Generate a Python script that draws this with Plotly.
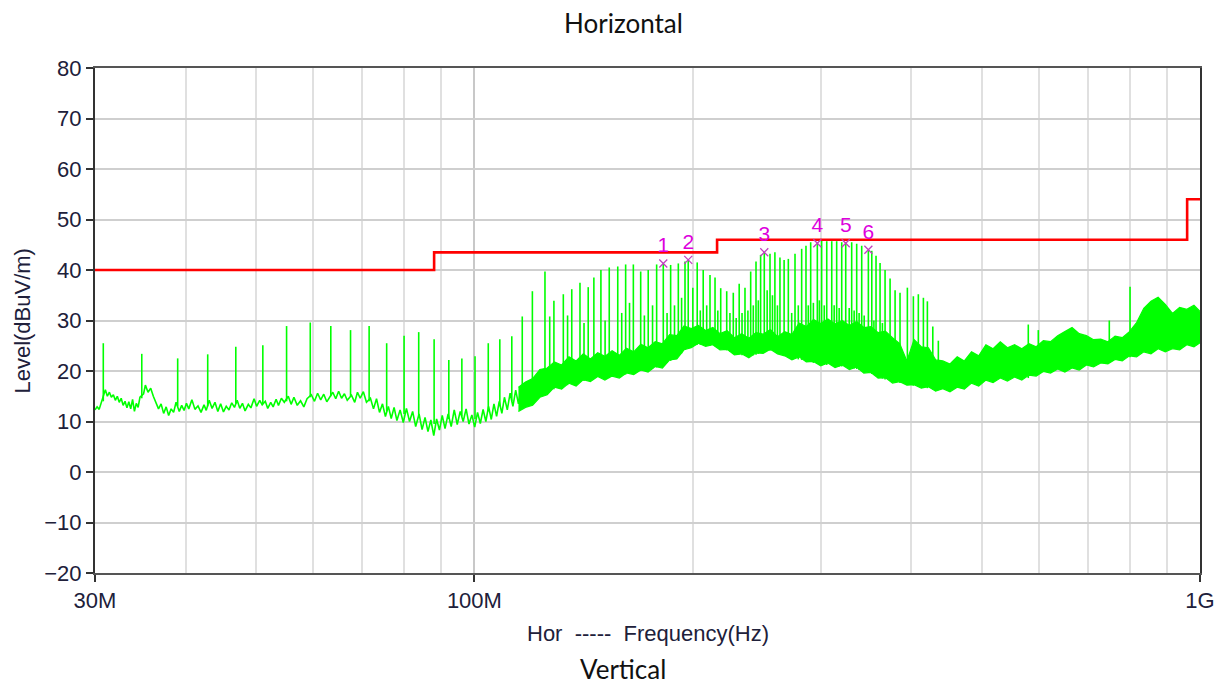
import math
import plotly.graph_objects as go

# ---------------- data (frequencies in MHz, levels in dBuV/m) ----------------
# low-frequency part of the measured trace (thin noisy line)
trace_mhz = [30.0, 30.2, 30.4, 30.55, 31.0, 31.2, 31.4, 31.6, 31.8, 32.0, 32.2, 32.4, 32.6, 32.8, 33.0,
             33.2, 33.4, 33.6, 33.8, 34.0, 34.2, 34.4, 34.6, 35.0, 35.2, 35.5, 35.8, 36.1, 36.4, 36.7,
             37.0, 37.3, 37.6, 37.9, 38.2, 38.5, 38.8, 39.2, 39.5, 39.8, 40.1, 40.4, 40.8, 41.2, 41.6,
             42.0, 42.4, 42.7, 43.1, 43.5, 43.9, 44.3, 44.7, 45.1, 45.5, 45.9, 46.3, 46.7, 47.1, 47.5,
             47.9, 48.3, 48.8, 49.2, 49.7, 50.1, 50.6, 51.0, 51.5, 51.9, 52.4, 52.8, 53.3, 53.7, 54.2,
             54.7, 55.4, 55.9, 56.4, 57.0, 57.6, 58.2, 58.8, 59.6, 60.2, 60.8, 61.4, 62.0, 62.6, 63.2,
             63.8, 64.4, 65.0, 65.6, 66.2, 66.8, 67.7, 68.4, 69.0, 69.6, 70.3, 71.0, 71.9, 72.6, 73.3,
             74.0, 74.7, 75.4, 76.1, 76.8, 77.5, 78.2, 79.0, 79.8, 80.6, 81.4, 82.2, 83.0, 83.9, 84.7,
             85.5, 86.3, 87.1, 87.9, 88.7, 89.5, 90.3, 91.1, 92.0, 92.9, 93.8, 94.7, 95.6, 96.5, 97.4,
             98.3, 99.2, 100.1, 101.0, 101.9, 102.8, 103.7, 104.6, 105.5, 106.4, 107.3, 108.2, 109.1,
             110.0, 111.0, 112.0, 113.0, 114.0, 115.0, 116.0]
trace_db = [12.3, 12.9, 12.4, 13.5, 16.3, 15.0, 15.8, 14.8, 15.3, 14.2, 15.0, 13.8, 14.6, 13.2, 14.0,
            12.7, 13.9, 12.5, 14.4, 12.0, 13.6, 12.8, 14.8, 15.5, 17.2, 15.8, 16.6, 15.0, 13.8, 12.5,
            13.5, 11.6, 12.9, 11.2, 12.5, 11.8, 13.8, 12.0, 13.2, 12.2, 13.6, 12.5, 14.3, 12.4, 13.1,
            11.8, 13.3, 12.2, 14.2, 12.6, 13.8, 12.0, 13.5, 11.9, 13.0, 12.3, 13.7, 12.8, 14.2, 12.6,
            13.6, 12.1, 13.4, 12.7, 14.5, 13.0, 14.2, 13.3, 14.0, 12.6, 13.8, 12.9, 14.4, 13.2, 14.6,
            13.8, 15.0, 13.4, 14.8, 13.2, 14.1, 12.9, 14.5, 15.3, 14.0, 15.6, 14.3, 15.4, 13.9, 14.8,
            15.8, 14.5, 16.0, 14.6, 15.5, 14.2, 15.2, 13.8, 15.8, 14.6, 15.9, 13.8, 14.6, 12.5, 14.5,
            11.8, 13.5, 11.0, 13.0, 10.6, 12.8, 10.2, 12.3, 9.8, 12.6, 10.0, 12.0, 9.0, 11.5, 8.4,
            10.8, 8.0, 10.3, 7.2, 10.5, 8.3, 11.2, 8.6, 11.5, 9.0, 12.3, 9.4, 12.0, 10.0, 12.5,
            9.5, 11.3, 8.9, 11.8, 9.6, 12.4, 10.0, 13.0, 10.4, 13.5, 11.0, 14.0, 11.6,
            14.8, 12.3, 15.6, 13.0, 16.2, 13.5, 16.8]

# dense noise band above ~115 MHz (lower and upper edge of the fuzz)
band_mhz = [115.0, 117.6, 120.3, 123.1, 126.0, 128.9, 131.9, 135.0, 138.1, 141.3, 144.5, 147.9, 151.3,
            154.8, 158.4, 162.0, 165.8, 169.6, 173.5, 177.5, 181.6, 185.8, 190.1, 194.5, 199.0, 203.6,
            208.3, 213.1, 218.0, 223.0, 228.2, 233.5, 238.9, 244.4, 250.0, 255.8, 261.7, 267.7, 273.9,
            280.2, 286.7, 293.3, 300.1, 307.0, 314.1, 321.3, 328.7, 336.3, 344.1, 352.0, 360.1, 368.4,
            376.9, 385.6, 394.5, 403.6, 412.9, 422.4, 432.2, 442.1, 452.3, 462.8, 473.4, 484.3, 495.5,
            506.9, 518.6, 530.6, 542.8, 555.3, 568.1, 581.2, 594.6, 608.3, 622.3, 636.6, 651.3, 666.3,
            681.6, 697.3, 713.4, 729.8, 746.6, 763.8, 781.4, 799.4, 817.8, 836.6, 855.9, 875.6, 895.7,
            916.3, 937.4, 959.0, 981.0, 1000.0]
band_low = [12.0, 12.8, 13.2, 14.8, 15.3, 16.8, 16.4, 17.6, 17.0, 18.3, 17.9, 18.9, 18.2,
            19.0, 18.6, 19.6, 19.3, 20.2, 19.8, 20.9, 20.6, 22.2, 22.4, 24.2, 24.6, 25.5,
            24.9, 25.2, 24.2, 24.3, 23.2, 23.4, 22.6, 23.6, 23.5, 24.3, 23.4, 23.0, 22.2,
            22.8, 21.8, 21.9, 21.0, 21.6, 20.7, 21.2, 20.3, 20.8, 19.6, 19.7, 18.6, 18.7,
            17.6, 17.9, 17.2, 17.3, 16.6, 16.9, 16.0, 16.5, 15.9, 16.8, 16.4, 17.6, 17.0,
            18.2, 17.7, 18.6, 18.0, 18.8, 18.2, 19.2, 19.0, 19.9, 19.6, 20.4, 19.8, 20.6,
            20.2, 21.2, 20.8, 21.6, 21.4, 22.3, 22.0, 23.0, 22.8, 23.8, 23.4, 24.4, 23.8,
            24.4, 24.2, 25.2, 24.8, 25.6]
band_high = [16.8, 17.8, 18.5, 20.3, 20.6, 21.8, 21.2, 22.8, 22.0, 23.4, 22.4, 23.6, 22.9,
             24.0, 23.1, 24.5, 23.8, 25.3, 24.6, 25.8, 25.4, 27.2, 27.0, 28.9, 28.4, 29.0,
             28.0, 28.6, 27.4, 28.0, 26.6, 27.4, 26.5, 27.6, 27.3, 28.2, 26.8, 27.8, 27.2,
             29.5, 28.8, 30.2, 29.4, 30.3, 29.3, 30.0, 29.0, 29.8, 28.6, 28.8, 27.6, 27.9,
             26.6, 25.4, 22.0, 26.2, 24.8, 24.6, 22.2, 22.0, 21.4, 22.8, 22.0, 23.8, 23.0,
             25.2, 24.4, 25.8, 24.6, 25.2, 24.4, 25.4, 24.8, 26.0, 25.8, 27.0, 27.8, 28.6,
             27.4, 27.0, 26.2, 26.3, 25.8, 26.9, 26.6, 27.8, 29.6, 32.4, 33.8, 34.6, 33.2,
             31.4, 32.6, 32.2, 33.0, 31.8]

spike_mhz = [30.8, 34.8, 39.0, 42.9, 46.9, 51.1, 55.1, 59.4, 63.4, 67.5, 71.6, 75.7, 80.0, 83.8, 88.0,
             92.2, 96.1, 100.2, 104.5, 108.4, 112.6, 116.4, 120.2, 125.1, 128.7, 132.6, 136.2, 139.8,
             143.5, 146.1, 149.4, 153.4, 157.6, 161.6, 165.6, 169.5, 173.6, 178.3, 182.1, 186.4, 191.0,
             195.1, 197.1, 202.8, 206.7, 211.2, 214.6, 218.5, 222.7, 227.4, 231.7, 236.0, 240.3, 244.4,
             248.0, 250.9, 255.5, 259.5, 263.7, 267.2, 270.8, 276.6, 282.5, 286.4, 290.7, 296.9, 301.0,
             305.9, 310.8, 315.7, 320.8, 324.9, 331.1, 336.4, 341.8, 349.1, 352.9, 357.7, 362.3, 368.1,
             374.0, 380.0, 386.0, 395.1, 402.7, 409.1, 415.7, 421.0, 428.3, 435.9, 579.9, 598.6, 749.9,
             800.9,
             127.0, 134.4, 141.6, 151.4, 159.6, 163.6, 171.5, 176.0, 184.3, 188.7, 193.0, 200.0, 204.8,
             209.0, 216.5, 225.0, 229.5, 233.8, 238.2, 242.3, 246.2, 253.2, 257.5, 261.6, 273.7, 279.5,
             288.5, 293.2, 298.8, 303.5, 313.2, 318.2, 328.5, 333.7, 339.0, 344.5, 355.3, 365.0]
spike_peak = [25.5, 23.4, 22.5, 23.3, 24.8, 25.1, 28.9, 29.6, 28.9, 28.1, 28.9, 25.5, 27.0, 27.7, 26.3,
              22.2, 22.5, 22.9, 25.5, 26.3, 26.9, 30.8, 35.8, 39.7, 33.9, 35.2, 36.2, 37.5,
              36.6, 38.5, 40.0, 40.5, 40.7, 41.1, 41.1, 39.7, 40.0, 41.1, 41.3, 41.0, 41.3,
              41.7, 42.0, 41.5, 40.0, 39.0, 38.5, 36.4, 35.8, 35.5, 37.3, 36.5, 39.7, 41.7,
              43.0, 43.5, 43.2, 43.5, 42.5, 42.0, 42.2, 43.2, 44.2, 44.8, 45.5, 45.3, 45.8,
              45.7, 45.7, 45.7, 45.5, 45.3, 45.5, 45.2, 44.8, 44.0, 43.8, 42.8, 41.4, 40.0,
              38.3, 36.0, 35.5, 36.5, 34.8, 35.2, 34.5, 33.8, 28.8, 26.0, 29.2, 28.1, 30.0,
              36.7,
              30.8, 31.0, 29.5, 30.0, 31.5, 33.5, 31.0, 33.0, 31.5, 33.0, 34.5, 36.5, 32.0,
              33.0, 32.0, 31.5, 30.5, 31.5, 32.0, 33.0, 34.0, 36.0, 35.0, 33.0, 31.5, 33.0,
              33.0, 33.5, 34.0, 33.0, 33.0, 32.5, 32.5, 32.0, 31.5, 31.0, 30.0, 29.5]
spike_base = [14.0, 14.6, 13.0, 13.0, 13.5, 13.5, 14.0, 14.8, 15.0, 15.0, 14.0, 12.0, 11.5, 11.0, 9.5,
              10.5, 11.0, 10.5, 12.0, 13.0, 14.0, 14.0, 13.5, 15.2, 16.4, 17.0, 17.4, 17.8,
              18.2, 18.5, 18.8, 18.6, 18.9, 19.3, 19.7, 20.0, 20.2, 20.7, 21.2, 22.0, 23.0,
              24.2, 25.0, 25.2, 25.2, 25.0, 24.9, 24.5, 24.1, 23.6, 23.3, 23.0, 23.0, 23.2,
              23.6, 23.9, 24.0, 23.9, 23.5, 23.0, 22.6, 22.5, 22.2, 22.0, 21.8, 21.5, 21.3,
              21.2, 21.1, 21.0, 20.9, 20.8, 20.6, 20.4, 20.1, 19.6, 19.4, 19.0, 18.7, 18.3,
              18.0, 17.8, 17.6, 17.5, 17.1, 16.9, 16.8, 16.6, 16.4, 16.3, 18.6, 19.5, 21.6,
              22.7,
              16.0, 17.2, 18.0, 18.7, 19.1, 19.5, 20.1, 20.5, 21.6, 22.5, 23.5, 25.1, 25.2,
              25.1, 24.7, 23.8, 23.5, 23.1, 22.9, 23.1, 23.4, 24.0, 24.0, 23.7, 22.5, 22.3,
              21.9, 21.6, 21.4, 21.2, 21.0, 20.9, 20.7, 20.5, 20.2, 19.9, 19.2, 18.5]

limit_mhz = [30, 88, 88, 216, 216, 960, 960, 1000]
limit_db = [40, 40, 43.5, 43.5, 46, 46, 54, 54]

marker_mhz = [182.1, 197.1, 250.9, 296.9, 324.9, 349.1]
marker_db = [41.3, 42.0, 43.5, 45.3, 45.3, 44.0]
marker_labels = ["1", "2", "3", "4", "5", "6"]

x_tick_mhz = [30, 100, 1000]
x_tick_text = ["30M", "100M", "1G"]
x_grid_mhz = [40, 50, 60, 70, 80, 90, 200, 300, 400, 500, 600, 700, 800, 900]
y_ticks = [-20, -10, 0, 10, 20, 30, 40, 50, 60, 70, 80]

# ---------------- figure ----------------
MHZ = 1e6
GREEN = "#00ff00"
fig = go.Figure()

fig.add_trace(go.Scatter(x=[f * MHZ for f in trace_mhz], y=trace_db, mode="lines",
                         line=dict(color=GREEN, width=1.6), hoverinfo="skip", showlegend=False))

fig.add_trace(go.Scatter(x=[f * MHZ for f in band_mhz], y=band_low, mode="lines",
                         line=dict(color=GREEN, width=1.2), hoverinfo="skip", showlegend=False))
fig.add_trace(go.Scatter(x=[f * MHZ for f in band_mhz], y=band_high, mode="lines",
                         line=dict(color=GREEN, width=1.2), fill="tonexty", fillcolor=GREEN,
                         hoverinfo="skip", showlegend=False))

sx, sy = [], []
for f, p, b in zip(spike_mhz, spike_peak, spike_base):
    sx += [f * MHZ, f * MHZ, None]
    sy += [b, p, None]
fig.add_trace(go.Scatter(x=sx, y=sy, mode="lines", line=dict(color=GREEN, width=1.6),
                         hoverinfo="skip", showlegend=False, connectgaps=False))

fig.add_trace(go.Scatter(x=[f * MHZ for f in limit_mhz], y=limit_db, mode="lines",
                         line=dict(color="#ff0000", width=2.6), showlegend=False))

fig.add_trace(go.Scatter(x=[f * MHZ for f in marker_mhz], y=marker_db, mode="markers+text",
                         text=marker_labels, textposition="top center",
                         textfont=dict(family="Liberation Sans", size=21, color="#dd00dd"),
                         marker=dict(symbol="x-thin", size=8, line=dict(color="#c040c0", width=1.3)),
                         showlegend=False))

tick_font = dict(family="Liberation Sans", size=22, color="#20203a")
title_font = dict(family="Lato", size=26, color="#111111")

fig.update_layout(
    width=1221, height=686,
    margin=dict(l=95, r=21, t=68, b=113, autoexpand=False),
    paper_bgcolor="white", plot_bgcolor="white",
    showlegend=False,
    xaxis=dict(type="log", range=[math.log10(30 * MHZ), math.log10(1000 * MHZ)],
               automargin=False,
               tickmode="array", tickvals=[f * MHZ for f in x_tick_mhz], ticktext=x_tick_text,
               ticks="outside", ticklen=7, tickwidth=2, tickcolor="#333333",
               showline=True, linecolor="#555555", linewidth=2, mirror=True,
               showgrid=True, gridcolor="#c8c8c8", gridwidth=1.5, zeroline=False,
               tickfont=tick_font,
               minor=dict(tickmode="array", tickvals=[f * MHZ for f in x_grid_mhz], ticks="",
                          showgrid=True, gridcolor="#e0e0e0", gridwidth=1.5)),
    yaxis=dict(range=[-20, 80], tickmode="array", tickvals=y_ticks, automargin=False,
               ticks="outside", ticklen=7, tickwidth=2, tickcolor="#333333",
               showline=True, linecolor="#333333", linewidth=2, mirror=True,
               showgrid=True, gridcolor="#cfcfcf", gridwidth=1.5, zeroline=False,
               tickfont=tick_font),
    annotations=[
        dict(text="Horizontal", x=0.478, y=1.089, xref="paper", yref="paper", showarrow=False,
             xanchor="center", yanchor="middle", font=title_font),
        dict(text="Hor  -----  Frequency(Hz)", x=0.5, y=-0.119, xref="paper", yref="paper",
             showarrow=False, xanchor="center", yanchor="middle", font=tick_font),
        dict(text="Vertical", x=0.478, y=-0.190, xref="paper", yref="paper", showarrow=False,
             xanchor="center", yanchor="middle", font=title_font),
        dict(text="Level(dBuV/m)", x=-0.066, y=0.5, xref="paper", yref="paper", showarrow=False,
             textangle=-90, xanchor="center", yanchor="middle", font=tick_font),
    ],
)

# remove the default page margin so the figure fills the window exactly
fig.write_html("out.html", config={"displayModeBar": False},
               post_script="document.body.style.margin='0px';document.body.style.overflow='hidden';")
